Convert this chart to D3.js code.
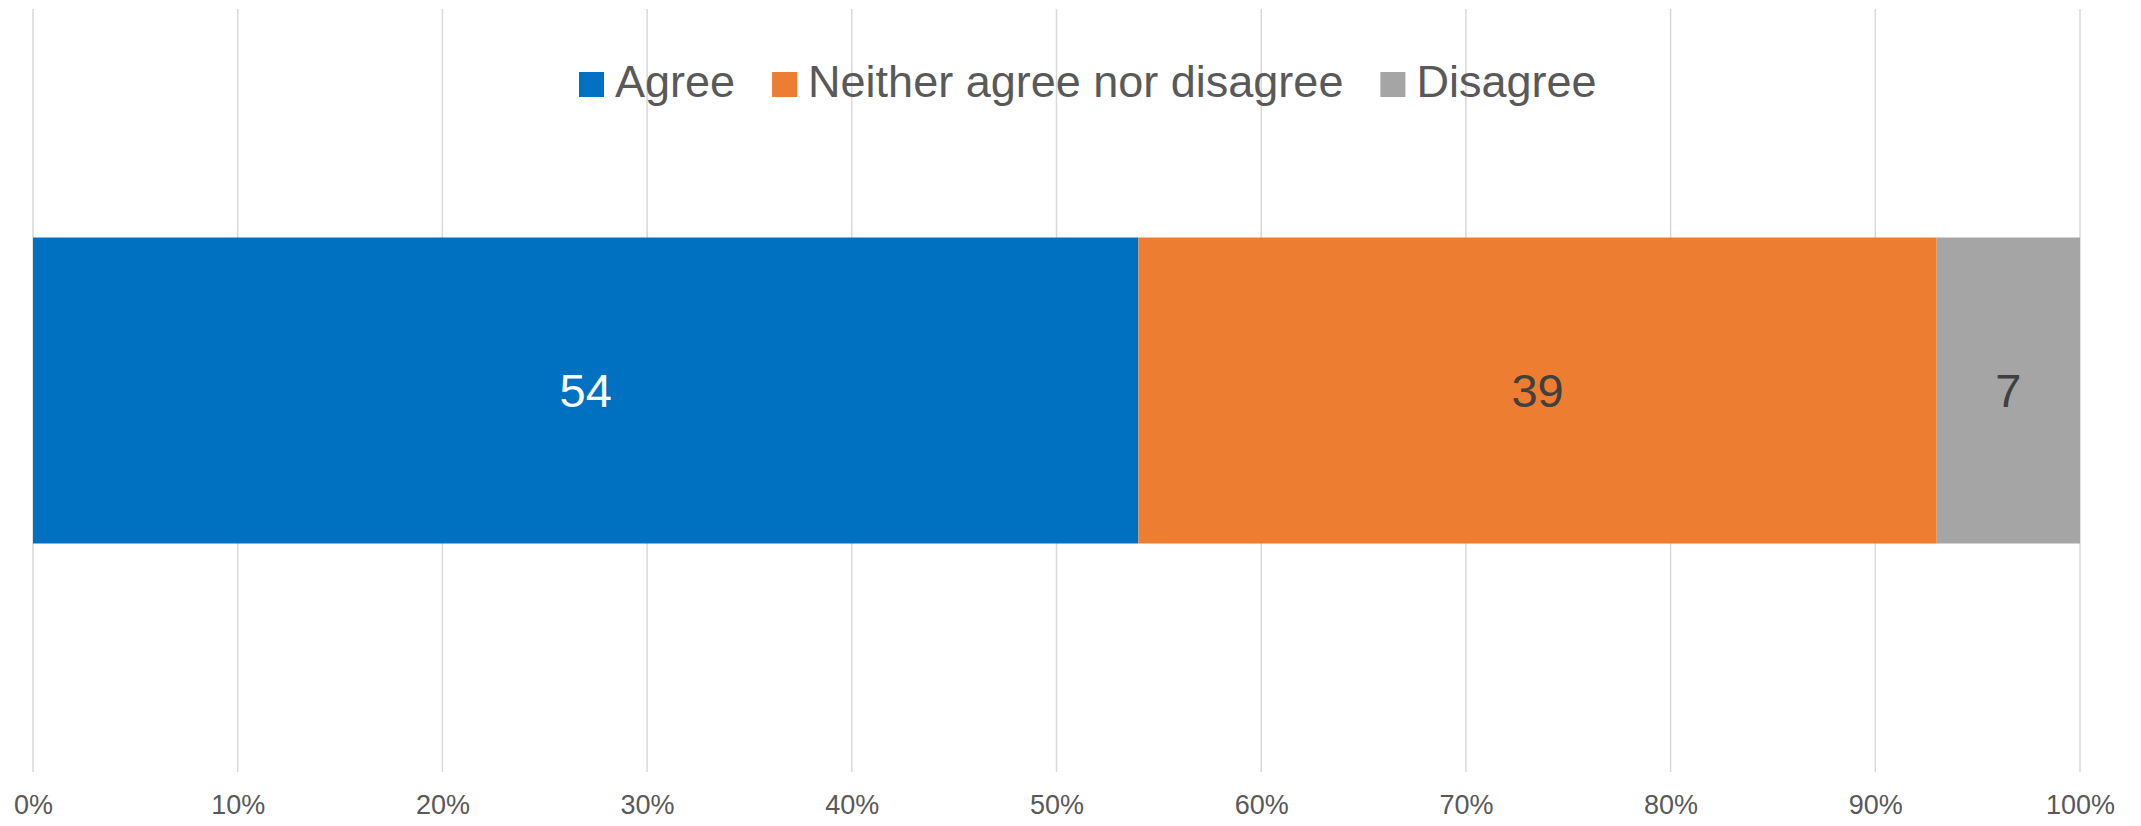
<!DOCTYPE html>
<html>
<head>
<meta charset="utf-8">
<script src="https://cdn.jsdelivr.net/npm/d3@7"></script>
<style>
  body { margin: 0; background: #fff; }
  svg { display: block; font-family: "Liberation Sans", Arial, sans-serif; }
</style>
</head>
<body>
<div id="chart"></div>
<script>
// survey answers, in percent
var categories = ["Agree", "Neither agree nor disagree", "Disagree"];
var values = [54, 39, 7];
var colors = ["#0070C0", "#ED7D31", "#A5A5A5"];
var labelColors = ["#ffffff", "#404040", "#404040"];
var tickValues = [0, 10, 20, 30, 40, 50, 60, 70, 80, 90, 100];

var W = 2141, H = 826;
var margins = {top: 9, right: 61, bottom: 54, left: 33},
    width = W - margins.left - margins.right,
    height = H - margins.top - margins.bottom;

var svg = d3.select("#chart").append("svg")
    .attr("width", W)
    .attr("height", H);

var g = svg.append("g")
    .attr("transform", "translate(" + margins.left + "," + margins.top + ")");

// one row, stacked
var row = {name: "all"};
categories.forEach(function(c, i) { row[c] = values[i]; });
var series = d3.stack().keys(categories)([row]);

var x = d3.scaleLinear()
    .domain([0, 100])
    .range([0, width]);

var y = d3.scaleBand()
    .domain(["all"])
    .range([0, height])
    .padding(0.4275);

// vertical gridlines
g.selectAll("line.vertical-grid")
    .data(tickValues)
    .enter()
    .append("line")
    .attr("class", "vertical-grid")
    .attr("x1", function(d) { return x(d); })
    .attr("x2", function(d) { return x(d); })
    .attr("y1", 0)
    .attr("y2", height)
    .style("stroke", "#d9d9d9")
    .style("stroke-width", 1.5);

// x axis labels, no domain or ticks
var xAxis = d3.axisBottom(x)
    .tickValues(tickValues)
    .tickSize(0)
    .tickPadding(0)
    .tickFormat(function(d) { return d + "%"; });

g.append("g")
    .attr("class", "x axis")
    .attr("transform", "translate(0," + height + ")")
    .call(xAxis)
    .call(function(a) { a.select(".domain").remove(); })
    .selectAll("text")
    .attr("y", 42)
    .attr("dy", 0)
    .style("font-family", "Liberation Sans, Arial, sans-serif")
    .style("font-size", "27px")
    .style("fill", "#595959");

// the stacked bar
var segs = g.selectAll(".seg")
    .data(series)
    .enter().append("g")
    .attr("class", "seg");

segs.append("rect")
    .attr("x", function(d) { return x(d[0][0]); })
    .attr("width", function(d) { return x(d[0][1]) - x(d[0][0]); })
    .attr("y", y("all"))
    .attr("height", y.bandwidth())
    .style("fill", function(d, i) { return colors[i]; });

segs.append("text")
    .attr("x", function(d) { return (x(d[0][0]) + x(d[0][1])) / 2; })
    .attr("y", y("all") + y.bandwidth() / 2)
    .attr("dy", "0.36em")
    .attr("text-anchor", "middle")
    .style("font-size", "47px")
    .style("fill", function(d, i) { return labelColors[i]; })
    .text(function(d) { return d[0][1] - d[0][0]; });

// legend along the top
var legend = svg.append("g").attr("class", "legend");
var lx = 579;
categories.forEach(function(c, i) {
    legend.append("rect")
        .attr("x", lx)
        .attr("y", 72)
        .attr("width", 25)
        .attr("height", 25)
        .style("fill", colors[i]);
    var t = legend.append("text")
        .attr("x", lx + 36)
        .attr("y", 97)
        .style("font-size", "45px")
        .style("fill", "#595959")
        .text(c);
    lx += 36 + t.node().getComputedTextLength() + 37;
});
</script>
</body>
</html>
